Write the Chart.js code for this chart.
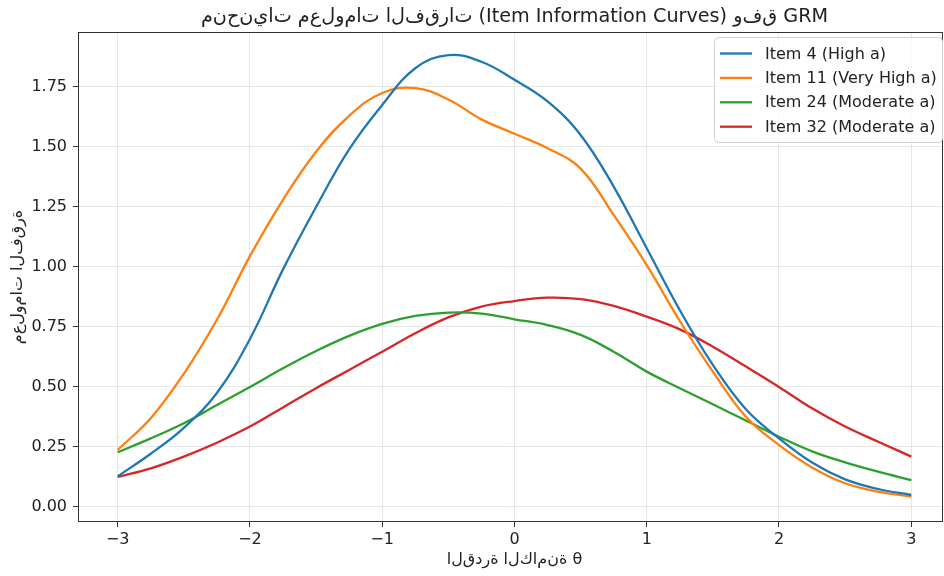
<!DOCTYPE html>
<html>
<head>
<meta charset="utf-8">
<script src="https://cdn.jsdelivr.net/npm/chart.js@4.4.1/dist/chart.umd.min.js"></script>
<style>
  body { margin: 0; background: #fff; }
  #chartCanvas { display: block; }
</style>
</head>
<body>
<canvas id="chartCanvas" width="944" height="576"></canvas>
<script>
// ability levels (theta) where the curves were read
let theta = [-3, -2.75, -2.5, -2.25, -2, -1.75, -1.5, -1.25, -1, -0.75, -0.5, -0.25, 0,
             0.25, 0.5, 0.75, 1, 1.25, 1.5, 1.75, 2, 2.25, 2.5, 2.75, 3];

let item4 = [0.128, 0.222, 0.33, 0.475, 0.70, 0.99, 1.25, 1.49, 1.675, 1.828, 1.883, 1.855, 1.78,
             1.69, 1.55, 1.335, 1.078, 0.82, 0.592, 0.407, 0.286, 0.185, 0.115, 0.075, 0.05];
let item11 = [0.238, 0.37, 0.555, 0.78, 1.045, 1.28, 1.48, 1.63, 1.725, 1.745, 1.698, 1.615, 1.555,
              1.495, 1.41, 1.217, 1.008, 0.775, 0.564, 0.376, 0.258, 0.165, 0.099, 0.064, 0.043];
let item24 = [0.228, 0.286, 0.349, 0.425, 0.50, 0.578, 0.65, 0.713, 0.763, 0.796, 0.81, 0.806, 0.782,
              0.758, 0.717, 0.647, 0.564, 0.495, 0.428, 0.36, 0.293, 0.232, 0.186, 0.147, 0.112];
let item32 = [0.125, 0.161, 0.21, 0.268, 0.335, 0.415, 0.495, 0.571, 0.647, 0.724, 0.79, 0.835, 0.858,
              0.872, 0.866, 0.838, 0.793, 0.74, 0.668, 0.585, 0.50, 0.411, 0.335, 0.272, 0.21];

let seriesLabels = ['Item 4 (High a)', 'Item 11 (Very High a)', 'Item 24 (Moderate a)', 'Item 32 (Moderate a)'];
let seriesColors = ['#1f77b4', '#ff7f0e', '#2ca02c', '#d62728'];

let xTicks = [-3, -2, -1, 0, 1, 2, 3];
let yTicks = [0, 0.25, 0.5, 0.75, 1.0, 1.25, 1.5, 1.75];

let titleText = 'منحنيات معلومات الفقرات (Item Information Curves) وفق GRM';
let xLabelText = 'القدرة الكامنة θ';
let yLabelText = 'معلومات الفقرة';

const FONT = '"DejaVu Sans", sans-serif';
const BASE = 16;      // tick, label and legend text size (px)

// the source figure lays the Arabic letters out left to right, unjoined;
// force LTR order and keep the letters apart with zero-width non-joiners
let asPlotted = function (s) {
    return '\u202D' + s.replace(/([\u0600-\u06FF])(?=[\u0600-\u06FF])/g, '$1\u200C') + '\u202C';
};

let toPoints = function (ys) {
    return ys.map(function (y, i) { return { x: theta[i], y: y }; });
};

let datasets = [item4, item11, item24, item32].map(function (ys, i) {
    return {
        label: seriesLabels[i],
        data: toPoints(ys),
        borderColor: seriesColors[i],
        backgroundColor: seriesColors[i],
        borderWidth: 2.3,
        pointRadius: 0,
        tension: 0.4,
        fill: false
    };
});

let framePlugin = {
    id: 'framePlugin',
    afterDraw: function (chart) {
        let ctx = chart.ctx;
        let a = chart.chartArea;
        ctx.save();

        // spines
        ctx.strokeStyle = '#333';
        ctx.lineWidth = 1;
        ctx.strokeRect(a.left + 0.5, a.top + 0.5, a.right - a.left - 1, a.bottom - a.top - 1);

        // legend
        let lx = 714, ly = 37, lw = 228, lh = 105;
        ctx.beginPath();
        ctx.roundRect(lx + 0.5, ly + 0.5, lw, lh, 4);
        ctx.fillStyle = 'rgba(255,255,255,0.8)';
        ctx.fill();
        ctx.strokeStyle = '#d0d0d0';
        ctx.stroke();
        ctx.font = BASE + 'px ' + FONT;
        ctx.textBaseline = 'middle';
        ctx.textAlign = 'left';
        seriesLabels.forEach(function (label, i) {
            let y = 53.5 + i * 24.4;
            ctx.strokeStyle = seriesColors[i];
            ctx.lineWidth = 2.3;
            ctx.beginPath();
            ctx.moveTo(720, y);
            ctx.lineTo(752, y);
            ctx.stroke();
            ctx.fillStyle = '#222';
            ctx.fillText(label, 765, y + 1);
        });

        // title and axis labels
        ctx.fillStyle = '#222';
        ctx.textAlign = 'center';
        ctx.font = (BASE * 1.2) + 'px ' + FONT;
        ctx.fillText(asPlotted(titleText), 514.5, 17);
        ctx.font = BASE + 'px ' + FONT;
        ctx.fillText(asPlotted(xLabelText), 514.5, 560);
        ctx.translate(18, 277);
        ctx.rotate(-Math.PI / 2);
        ctx.fillText(asPlotted(yLabelText), 0, 0);
        ctx.restore();
    }
};

let chartDraw = function () {
    let ctx = document.getElementById('chartCanvas').getContext('2d');

    window.iicChart = new Chart(ctx, {
        type: 'line',
        data: { datasets: datasets },
        options: {
            responsive: false,
            animation: false,
            layout: { padding: { top: 32, right: 1, left: 0, bottom: 0 } },
            plugins: {
                legend: { display: false },
                title: { display: false },
                tooltip: { enabled: false }
            },
            scales: {
                x: {
                    type: 'linear',
                    min: -3.3,
                    max: 3.24,
                    afterBuildTicks: function (axis) {
                        axis.ticks = xTicks.map(function (v) { return { value: v }; });
                    },
                    afterFit: function (axis) { axis.height = 54; },
                    border: { display: false },
                    grid: {
                        color: 'rgba(176,176,176,0.3)',
                        tickColor: '#333',
                        tickLength: 5
                    },
                    ticks: {
                        padding: 3,
                        color: '#222',
                        font: { family: FONT, size: BASE },
                        callback: function (v) { return v < 0 ? '\u2212' + Math.abs(v) : String(v); }
                    }
                },
                y: {
                    min: -0.0625,
                    max: 1.979,
                    afterBuildTicks: function (axis) {
                        axis.ticks = yTicks.map(function (v) { return { value: v }; });
                    },
                    afterFit: function (axis) { axis.width = 78; },
                    border: { display: false },
                    grid: {
                        color: 'rgba(176,176,176,0.3)',
                        tickColor: '#333',
                        tickLength: 5
                    },
                    ticks: {
                        padding: 6,
                        color: '#222',
                        font: { family: FONT, size: BASE },
                        callback: function (v) { return v.toFixed(2); }
                    }
                }
            }
        },
        plugins: [framePlugin]
    });
};

window.onload = function () {
    chartDraw();
};
</script>
</body>
</html>
